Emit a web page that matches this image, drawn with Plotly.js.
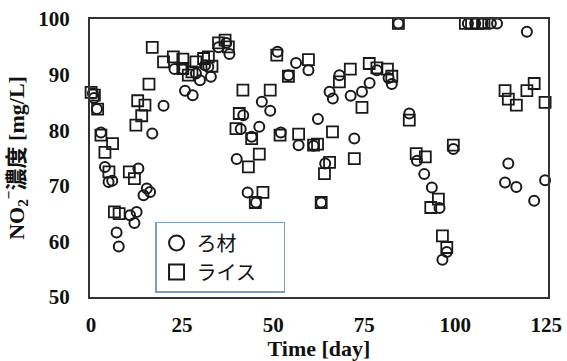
<!DOCTYPE html>
<html>
<head>
<meta charset="utf-8">
<script src="https://cdn.plot.ly/plotly-3.0.1.min.js"></script>
<style>html,body{margin:0;padding:0;background:#fff;}#chart{width:567px;height:361px;}</style>
</head>
<body>
<div id="chart"></div>
<script>
// ろ材 (filter media) series
const filterDays = [0.5,0.8,1.6,2.7,3.8,4.8,5.8,7.0,7.6,10.7,11.9,12.5,13.0,14.4,15.3,16.2,16.8,19.9,22.9,25.2,25.8,27.9,28.8,29.9,31.3,32.2,32.9,35.0,37.1,38.0,40.0,41.1,41.8,43.0,44.1,45.3,46.2,46.9,49.2,51.2,52.1,54.2,56.3,57.0,59.7,61.1,62.3,63.2,64.3,65.5,66.4,68.2,71.3,72.3,74.4,76.5,78.5,81.7,82.6,84.4,87.4,89.5,91.5,93.6,95.7,96.5,97.7,99.5,103.5,105.5,107.5,109.8,111.5,113.7,114.6,116.8,119.7,121.7,124.7];
const filterNO2 = [86.6,85.8,83.8,79.6,73.4,70.7,70.9,61.6,59.1,64.7,63.3,65.3,73.1,68.3,69.5,68.9,79.4,84.4,91.0,91.0,87.1,86.3,90.2,89.0,91.7,91.4,89.6,94.9,95.7,93.7,74.8,80.2,82.7,68.8,78.8,67.0,80.6,85.1,83.5,94.1,79.6,89.9,92.1,77.3,90.8,77.2,82.0,67.0,74.0,86.9,85.7,89.9,86.2,78.5,86.9,88.5,90.8,89.4,88.3,99.2,83.0,74.5,72.1,69.7,66.0,56.7,58.1,76.6,99.2,99.2,99.2,99.2,99.2,70.6,74.0,69.8,97.7,67.3,71.0];

// ライス (rice) series
const riceDays = [0.0,0.9,1.8,2.7,3.8,4.9,5.9,6.4,7.7,10.5,11.9,12.3,12.8,13.9,14.8,15.9,16.8,19.9,22.6,25.2,25.2,26.7,27.7,28.8,30.9,32.2,33.2,35.0,36.8,37.7,39.8,40.7,41.7,43.2,44.1,45.1,46.2,47.2,49.2,51.0,51.9,54.2,57.0,59.7,61.1,62.2,63.2,64.1,65.5,66.3,68.2,71.2,72.3,74.4,76.4,78.5,81.4,82.6,84.4,87.4,89.3,91.8,93.3,95.4,96.5,97.7,99.5,102.8,104.5,106.2,107.9,113.7,114.6,116.8,119.7,121.7,124.7];
const riceNO2 = [86.8,86.3,83.8,79.1,76.0,72.5,77.6,65.3,65.0,72.5,71.3,80.9,85.3,82.6,84.5,88.3,94.9,92.3,93.2,92.8,91.1,89.9,90.5,92.3,92.9,93.2,91.5,95.7,96.2,95.0,80.3,83.0,87.2,73.4,78.5,67.0,75.7,68.8,87.2,93.5,79.1,89.7,79.3,92.7,77.3,77.5,67.0,72.2,74.2,79.7,88.7,91.0,74.9,84.1,92.0,91.2,91.0,89.7,99.2,81.8,75.8,75.2,66.1,67.6,61.0,58.9,77.3,99.2,99.2,99.2,99.2,87.1,85.6,84.5,87.1,88.4,85.0];

const seriesNames = ['ろ材', 'ライス'];
const xTicks = [0, 25, 50, 75, 100, 125];
const yTicks = [50, 60, 70, 80, 90, 100];

const ink = '#1a1a1a';
const pad = '&nbsp;&nbsp;&nbsp;&nbsp;&nbsp;';
const traces = [
  {x: filterDays, y: filterNO2, type: 'scatter', mode: 'markers', showlegend: false, cliponaxis: false,
   marker: {symbol: 'circle-open', size: 10, color: ink, line: {width: 2, color: ink}}},
  {x: riceDays, y: riceNO2, type: 'scatter', mode: 'markers', showlegend: false, cliponaxis: false,
   marker: {symbol: 'square-open', size: 11, color: ink, line: {width: 1.8, color: ink}}},
  {x: [null], y: [null], type: 'scatter', mode: 'markers', name: seriesNames[0] + pad,
   marker: {symbol: 'circle-open', size: 15, color: ink, line: {width: 2, color: ink}}},
  {x: [null], y: [null], type: 'scatter', mode: 'markers', name: seriesNames[1] + pad,
   marker: {symbol: 'square-open', size: 15, color: ink, line: {width: 2, color: ink}}}
];

const serif = 'Liberation Serif, Times New Roman, serif';
const tickFont = {family: serif, size: 21, color: '#111', weight: 'bold'};
const layout = {
  width: 567, height: 361,
  margin: {l: 90, r: 19, t: 19, b: 64},
  paper_bgcolor: '#fff', plot_bgcolor: '#fff',
  showlegend: true,
  legend: {
    x: 0.142, y: 0.27, xanchor: 'left', yanchor: 'top',
    bgcolor: '#fff', bordercolor: '#7f9cc4', borderwidth: 1.5,
    font: {family: 'Noto Sans CJK JP, Noto Sans, sans-serif', size: 20, color: '#111'},
    tracegroupgap: 0, itemwidth: 30
  },
  xaxis: {
    range: [-0.3, 125.5], tickvals: xTicks, ticktext: xTicks.map(String),
    showgrid: false, zeroline: false, ticks: '', ticklabelstandoff: 8,
    showline: true, mirror: true, linecolor: '#333', linewidth: 2,
    tickfont: tickFont,
    title: {text: '<b>Time [day]</b>', font: {family: serif, size: 22, color: '#111'}, standoff: 6}
  },
  yaxis: {
    range: [50, 100], tickvals: yTicks, ticktext: yTicks.map(String),
    showgrid: false, zeroline: false, ticks: '', ticklabelstandoff: 14,
    showline: true, mirror: true, linecolor: '#333', linewidth: 2,
    tickfont: tickFont,
    title: {text: '<b>NO<sub>2</sub><sup>−</sup>濃度 [mg/L]</b>', font: {family: 'Liberation Serif, Noto Sans CJK JP, serif', size: 22, color: '#111'}, standoff: 8}
  }
};

Plotly.newPlot('chart', traces, layout, {displayModeBar: false, staticPlot: true});
</script>
</body>
</html>
